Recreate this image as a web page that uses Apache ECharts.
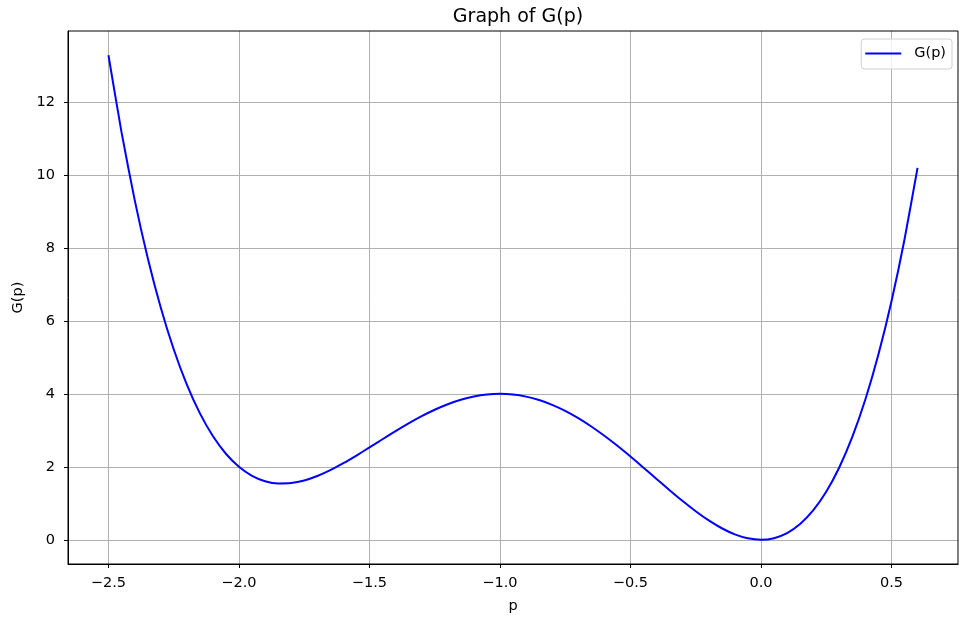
<!DOCTYPE html>
<html>
<head>
<meta charset="utf-8">
<script src="https://cdn.jsdelivr.net/npm/echarts@6/dist/echarts.min.js"></script>
<style>html,body{margin:0;padding:0;background:#fff;}#c{width:959px;height:617px;}</style>
</head>
<body>
<div id="c"></div>
<script>
var pValues = [-2.5,-2.45,-2.4,-2.35,-2.3,-2.25,-2.2,-2.15,-2.1,-2.05,-2.0,-1.95,-1.9,-1.85,-1.8,-1.75,-1.7,-1.65,-1.6,-1.55,-1.5,-1.45,-1.4,-1.35,-1.3,-1.25,-1.2,-1.15,-1.1,-1.05,-1.0,-0.95,-0.9,-0.85,-0.8,-0.75,-0.7,-0.65,-0.6,-0.55,-0.5,-0.45,-0.4,-0.35,-0.3,-0.25,-0.2,-0.15,-0.1,-0.05,0.0,0.05,0.1,0.15,0.2,0.25,0.3,0.35,0.4,0.45,0.5,0.55,0.6];
var gValues = [13.281,11.172,9.331,7.738,6.374,5.221,4.259,3.472,2.844,2.358,2.0,1.753,1.606,1.544,1.555,1.626,1.748,1.909,2.099,2.309,2.531,2.756,2.979,3.191,3.388,3.564,3.715,3.837,3.926,3.981,4.0,3.981,3.924,3.830,3.699,3.533,3.334,3.106,2.851,2.575,2.281,1.977,1.667,1.360,1.062,0.783,0.531,0.316,0.148,0.039,0.0,0.043,0.182,0.431,0.803,1.314,1.980,2.818,3.843,5.075,6.531,8.231,10.195];
var xTicks = [-2.5,-2.0,-1.5,-1.0,-0.5,0.0,0.5];
var yTicks = [0,2,4,6,8,10,12];
var seriesName = 'G(p)';

var font = 'DejaVu Sans';
function fmt1(v){ var s = v.toFixed(1); return s.replace('-', '\u2212'); }
function fmt0(v){ return String(Math.round(v)).replace('-', '\u2212'); }

var data = pValues.map(function(p,i){ return [p, gValues[i]]; });
var chart = echarts.init(document.getElementById('c'));
chart.setOption({
  animation: false,
  backgroundColor: '#fff',
  title: { text: 'Graph of G(p)', left: 513, top: 3, textAlign: 'center',
    textStyle: { fontFamily: font, fontSize: 19, fontWeight: 'normal', color: '#000' } },
  legend: {
    right: 7, top: 39, orient: 'vertical',
    data: [{ name: seriesName, icon: 'path://M0,0L40,0L40,2L0,2Z' }],
    itemWidth: 36, itemHeight: 2, itemGap: 5,
    padding: [7, 6, 8, 4],
    borderColor: '#d0d0d0', borderWidth: 1, borderRadius: 3,
    backgroundColor: 'rgba(255,255,255,0.8)',
    textStyle: { fontFamily: font, fontSize: 14.5, color: '#000', padding: [0,0,0,8] }
  },
  grid: { left: 68, right: 1, top: 31, bottom: 53, containLabel: false, outerBoundsMode: 'none' },
  xAxis: {
    type: 'value', min: -2.655, max: 0.755,
    name: 'p', nameLocation: 'middle', nameGap: 35,
    nameTextStyle: { fontFamily: font, fontSize: 14.5, color: '#000' },
    axisLine: { show: true, onZero: false, lineStyle: { color: '#000', width: 1 } },
    axisTick: { show: true, length: 4, customValues: xTicks, lineStyle: { color: '#000' } },
    axisLabel: { customValues: xTicks, fontFamily: font, fontSize: 14.5, color: '#000', margin: 12, formatter: fmt1 },
    splitLine: { show: true, lineStyle: { color: '#b0b0b0', width: 1 } }
  },
  yAxis: {
    type: 'value', min: -0.664, max: 13.945,
    name: 'G(p)', nameLocation: 'middle', nameGap: 40,
    nameTextStyle: { fontFamily: font, fontSize: 14.5, color: '#000' },
    axisLine: { show: true, onZero: false, lineStyle: { color: '#000', width: 1 } },
    axisTick: { show: true, length: 4, customValues: yTicks, lineStyle: { color: '#000' } },
    axisLabel: { customValues: yTicks, fontFamily: font, fontSize: 14.5, color: '#000', margin: 13, formatter: fmt0 },
    splitLine: { show: true, lineStyle: { color: '#b0b0b0', width: 1 } }
  },
  series: [{
    name: seriesName, type: 'line', data: data, smooth: 0.2,
    showSymbol: false, symbol: 'none',
    lineStyle: { color: '#0000ff', width: 2 }, itemStyle: { color: '#0000ff' }
  }],
  graphic: [{ type: 'rect', shape: { x: 68, y: 31, width: 890, height: 533 }, style: { fill: 'none', stroke: '#000', lineWidth: 1 }, silent: true, z: 10 }]
});
</script>
</body>
</html>
